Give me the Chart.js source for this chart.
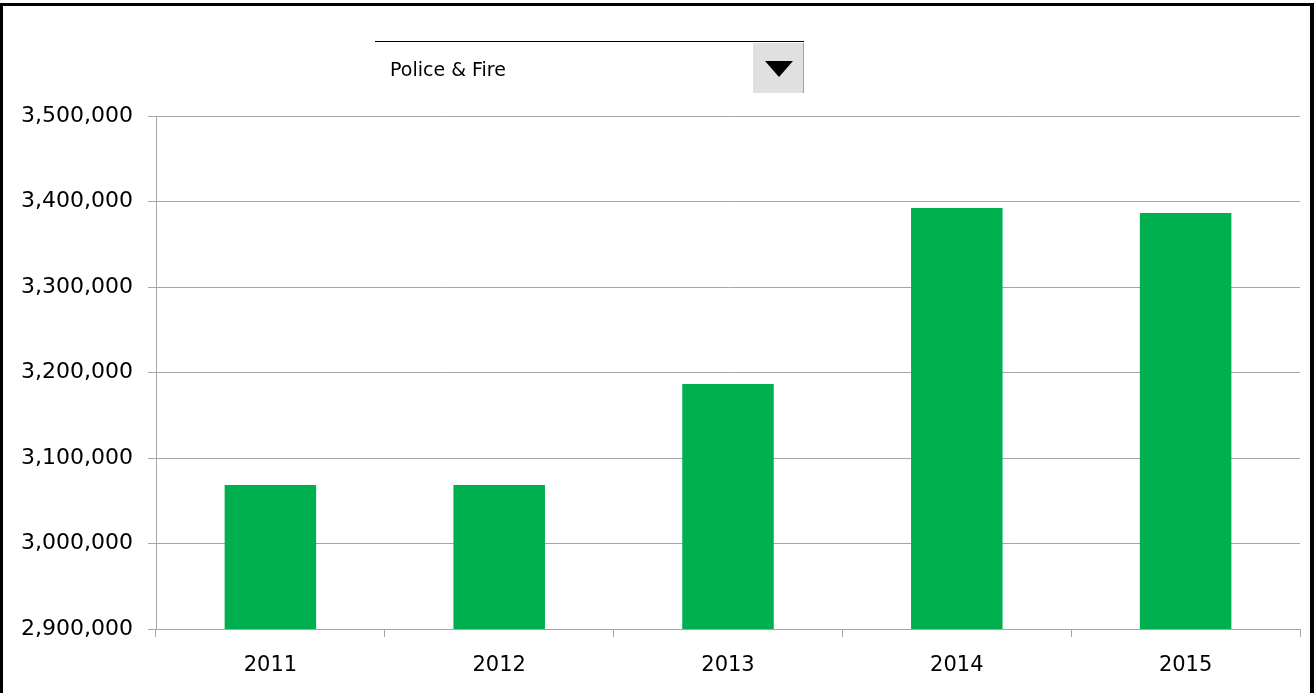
<!DOCTYPE html>
<html>
<head>
<meta charset="utf-8">
<script src="https://cdn.jsdelivr.net/npm/chart.js@4/dist/chart.umd.min.js"></script>
<style>
  html, body { margin: 0; padding: 0; background: #fff; }
  body { width: 1316px; height: 693px; position: relative; overflow: hidden; font-family: "DejaVu Sans", sans-serif; }
  #frame { position: absolute; left: 0; top: 3px; width: 1314px; height: 720px; box-sizing: border-box; border: 3px solid #000; border-right-width: 4px; }
  #wrap { position: absolute; left: 0; top: 0; width: 1316px; height: 693px; }
  #picker { position: absolute; left: 375px; top: 41px; width: 429px; height: 52px; border-top: 1px solid #000; }
  #picker .label { position: absolute; left: 15px; top: 16px; font-size: 19px; color: #000; }
  #picker .btn { position: absolute; right: 0; top: 1px; width: 51px; height: 50px; background: #e0e0e0; border-right: 1px solid #a0a0a0; box-sizing: border-box; }
  #picker .arrow { position: absolute; left: 12px; top: 18px; width: 0; height: 0; border-left: 14px solid transparent; border-right: 14px solid transparent; border-top: 16px solid #000; }
</style>
</head>
<body>
<div id="wrap"><canvas id="chart" width="1316" height="693"></canvas></div>
<div id="frame"></div>
<div id="picker">
  <span class="label">Police &amp; Fire</span>
  <div class="btn"><div class="arrow"></div></div>
</div>
<script>
const years = ['2011', '2012', '2013', '2014', '2015'];
const spending = [3068500, 3068500, 3186500, 3392500, 3386500];
const yMin = 2900000;
const yMax = 3500000;
const yStep = 100000;

const ctx = document.getElementById('chart').getContext('2d');
new Chart(ctx, {
  type: 'bar',
  data: {
    labels: years,
    datasets: [{
      label: 'Police & Fire',
      data: spending,
      backgroundColor: '#00b050',
      barPercentage: 0.4,
      categoryPercentage: 1.0
    }]
  },
  options: {
    responsive: false,
    animation: false,
    layout: { padding: { left: 0, top: 116, right: 16, bottom: 0 } },
    plugins: {
      legend: { display: false },
      tooltip: { enabled: false }
    },
    scales: {
      x: {
        grid: { offset: true, drawOnChartArea: false, color: '#a6a6a6', tickLength: 8 },
        border: { color: '#a6a6a6' },
        ticks: { color: '#000', font: { family: 'DejaVu Sans', size: 21 }, padding: 16 },
        afterFit: s => { s.height = 693 - 629; }
      },
      y: {
        min: yMin,
        max: yMax,
        ticks: {
          stepSize: yStep,
          color: '#000',
          padding: 15,
          font: { family: 'DejaVu Sans', size: 22 },
          callback: v => v.toLocaleString('en-US')
        },
        grid: { color: '#a6a6a6', tickLength: 8 },
        border: { color: '#a6a6a6' },
        afterFit: s => { s.width = 156; }
      }
    }
  }
});
</script>
</body>
</html>
